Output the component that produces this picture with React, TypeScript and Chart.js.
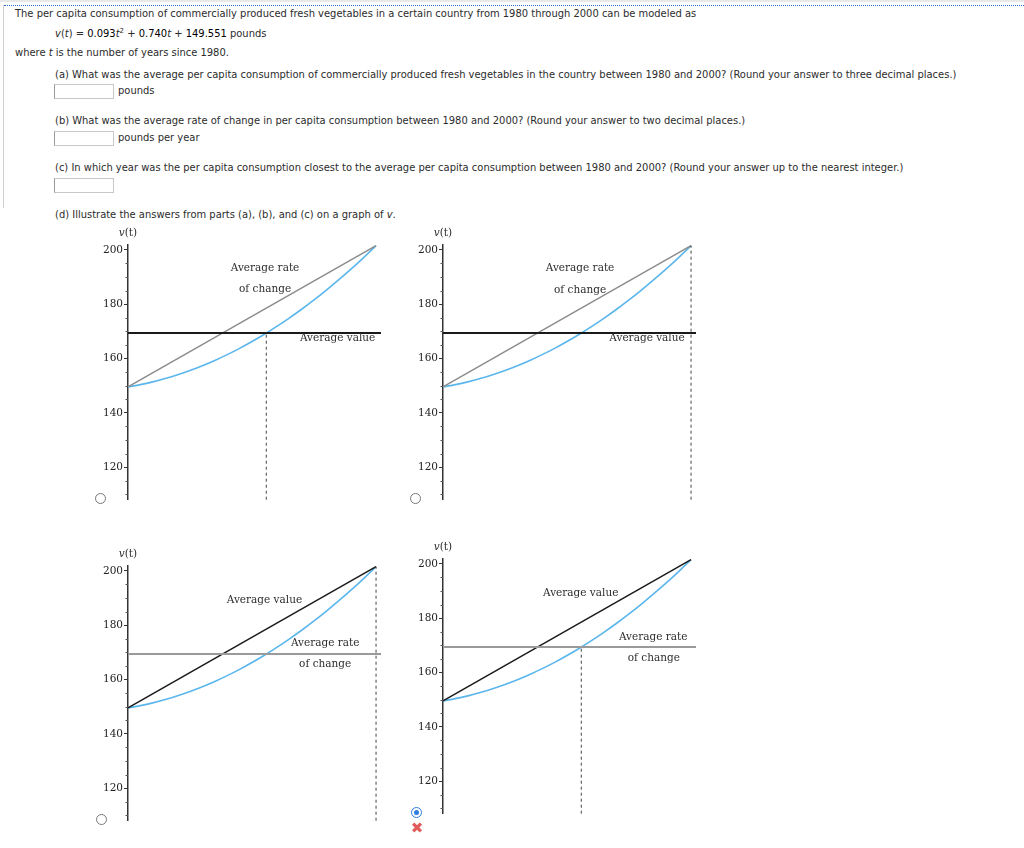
import React, { useEffect, useRef } from "react";
import { Chart, registerables } from "chart.js";

Chart.register(...registerables);

// ---- data ----
const T_VALUES = [0, 1, 2, 3, 4, 5, 6, 7, 8, 9, 10, 11, 12, 13, 14, 15, 16, 17, 18, 19, 20];
const V_VALUES = [
  149.55, 150.38, 151.4, 152.61, 154.0, 155.58, 157.34, 159.29, 161.42, 163.74, 166.25,
  168.94, 171.82, 174.89, 178.14, 181.58, 185.2, 189.01, 193.0, 197.18, 201.55,
];
const SECANT_T = [0, 20];
const SECANT_V = [149.55, 201.55];
const AVG_VALUE = 169.35;
const AVG_LINE_T = [0, 20.4];
const CLOSEST_T = 11.15;
const END_T = 20;
const Y_TICKS = [120, 140, 160, 180, 200];
const Y_MINOR = [110, 115, 125, 130, 135, 145, 150, 155, 165, 170, 175, 185, 190, 195];
const X_MIN = 0;
const X_MAX = 20.4;
const Y_MIN = 108;
const Y_MAX = 201.8;

const BLUE = "#5ab6ec";
const GRAY = "#8c8c8c";
const DARK = "#1a1a1a";
const TEXT = "#2e2e2e";

type Label = { text: string; t: number; v: number };
type Panel = {
  left: number;
  top: number;
  secantColor: string;
  avgColor: string;
  dashT: number;
  dashTop: number;
  labels: Label[];
};

const PANELS: Panel[] = [
  {
    left: 128, top: 245, secantColor: GRAY, avgColor: DARK, dashT: CLOSEST_T, dashTop: AVG_VALUE,
    labels: [
      { text: "Average rate", t: 11.05, v: 193.1 },
      { text: "of change", t: 11.05, v: 185.4 },
      { text: "Average value", t: 16.9, v: 167.3 },
    ],
  },
  {
    left: 443, top: 245, secantColor: GRAY, avgColor: DARK, dashT: END_T, dashTop: 201.55,
    labels: [
      { text: "Average rate", t: 11.05, v: 193.1 },
      { text: "of change", t: 11.05, v: 185.3 },
      { text: "Average value", t: 16.45, v: 167.3 },
    ],
  },
  {
    left: 128, top: 566, secantColor: DARK, avgColor: "#9a9a9a", dashT: END_T, dashTop: 201.55,
    labels: [
      { text: "Average value", t: 11.0, v: 189.35 },
      { text: "Average rate", t: 15.9, v: 173.2 },
      { text: "of change", t: 15.9, v: 165.45 },
    ],
  },
  {
    left: 443, top: 559, secantColor: DARK, avgColor: "#9a9a9a", dashT: CLOSEST_T, dashTop: AVG_VALUE,
    labels: [
      { text: "Average value", t: 11.1, v: 189.35 },
      { text: "Average rate", t: 16.95, v: 173.0 },
      { text: "of change", t: 17.0, v: 165.3 },
    ],
  },
];

const AXIS_W = 45;
const PAD_TOP = 20;
const PAD_RIGHT = 6;
const PAD_BOTTOM = 4;
const AREA_W = 253;
const AREA_H = 258;

function ChartPanel({ panel }: { panel: Panel }) {
  const ref = useRef<HTMLCanvasElement | null>(null);
  useEffect(() => {
    if (!ref.current) return;
    const overlay = {
      id: "overlay",
      afterDraw(chart: any) {
        const ctx = chart.ctx;
        const xs = chart.scales.x;
        const ys = chart.scales.y;
        const ax = chart.chartArea.left;
        ctx.save();
        // minor ticks
        ctx.strokeStyle = "#555";
        ctx.lineWidth = 1;
        Y_MINOR.forEach((v) => {
          const y = Math.round(ys.getPixelForValue(v)) + 0.5;
          ctx.beginPath();
          ctx.moveTo(ax - 2.5, y);
          ctx.lineTo(ax, y);
          ctx.stroke();
        });
        // v(t) title
        ctx.fillStyle = TEXT;
        ctx.textBaseline = "middle";
        ctx.textAlign = "left";
        const fi = "italic 10.5px 'DejaVu Serif', serif";
        const fn = "10.5px 'DejaVu Serif', serif";
        ctx.font = fi;
        const w1 = ctx.measureText("v").width;
        ctx.font = fn;
        const w2 = ctx.measureText("(t)").width;
        const x0 = ax - (w1 + w2) / 2;
        const ty = chart.chartArea.top - 12;
        ctx.font = fi;
        ctx.fillText("v", x0, ty);
        ctx.font = fn;
        ctx.fillText("(t)", x0 + w1, ty);
        // labels
        ctx.font = "10.5px 'DejaVu Serif', serif";
        ctx.textAlign = "center";
        panel.labels.forEach((l) => {
          ctx.fillText(l.text, xs.getPixelForValue(l.t), ys.getPixelForValue(l.v));
        });
        ctx.restore();
      },
    };
    const chart = new Chart(ref.current, {
      type: "line",
      data: {
        datasets: [
          {
            data: [
              { x: panel.dashT, y: Y_MIN },
              { x: panel.dashT, y: panel.dashTop },
            ],
            borderColor: "#444",
            borderWidth: 1,
            borderDash: [3, 3],
            pointRadius: 0,
          },
          {
            data: AVG_LINE_T.map((t) => ({ x: t, y: AVG_VALUE })),
            borderColor: panel.avgColor,
            borderWidth: 2,
            pointRadius: 0,
          },
          {
            data: SECANT_T.map((t, i) => ({ x: t, y: SECANT_V[i] })),
            borderColor: panel.secantColor,
            borderWidth: 1.5,
            pointRadius: 0,
          },
          {
            data: T_VALUES.map((t, i) => ({ x: t, y: V_VALUES[i] })),
            borderColor: BLUE,
            borderWidth: 1.6,
            pointRadius: 0,
            cubicInterpolationMode: "monotone",
          },
        ],
      },
      options: {
        responsive: false,
        animation: false,
        events: [],
        layout: { padding: { top: PAD_TOP, right: PAD_RIGHT, bottom: PAD_BOTTOM, left: 0 } },
        plugins: { legend: { display: false }, tooltip: { enabled: false } },
        datasets: { line: { clip: false } as any },
        scales: {
          x: { type: "linear", min: X_MIN, max: X_MAX, display: false },
          y: {
            type: "linear",
            position: "left",
            min: Y_MIN,
            max: Y_MAX,
            afterBuildTicks: (s: any) => {
              s.ticks = Y_TICKS.map((v) => ({ value: v }));
            },
            afterFit: (s: any) => {
              s.width = AXIS_W;
            },
            grid: { drawOnChartArea: false, drawTicks: true, tickLength: 4, tickColor: "#333", tickWidth: 1 },
            border: { display: true, color: "#333", width: 1.5 },
            ticks: {
              color: "#222",
              padding: 1,
              font: { family: "'DejaVu Serif', serif", size: 10.5 },
              callback: (v: any) => String(v),
            },
          },
        },
      } as any,
      plugins: [overlay],
    });
    return () => chart.destroy();
  }, [panel]);
  return (
    <canvas
      ref={ref}
      width={AXIS_W + AREA_W + PAD_RIGHT}
      height={PAD_TOP + AREA_H + PAD_BOTTOM}
      style={{
        position: "absolute",
        left: panel.left - AXIS_W,
        top: panel.top - PAD_TOP,
        width: AXIS_W + AREA_W + PAD_RIGHT,
        height: PAD_TOP + AREA_H + PAD_BOTTOM,
      }}
    />
  );
}

const txt = (x: number, cy: number, content: React.ReactNode, extra: React.CSSProperties = {}) => (
  <div
    style={{
      position: "absolute",
      left: x,
      top: cy - 7,
      height: 14,
      lineHeight: "14px",
      whiteSpace: "nowrap",
      ...extra,
    }}
  >
    {content}
  </div>
);

const box = (x: number, y: number) => (
  <div
    style={{
      position: "absolute",
      left: x,
      top: y,
      width: 58,
      height: 13,
      border: "1px solid #c8c8c8",
      borderLeftColor: "#9a9a9a",
      background: "#fff",
    }}
  />
);

const radio = (cx: number, cy: number) => (
  <div
    style={{
      position: "absolute",
      left: cx - 5,
      top: cy - 5,
      width: 9,
      height: 9,
      borderRadius: "50%",
      border: "1px solid #777",
      background: "#fff",
    }}
  />
);

export default function App() {
  const n = { color: "#000" };
  return (
    <div
      style={{
        position: "absolute",
        left: 0,
        top: 0,
        width: 1024,
        height: 848,
        background: "#fff",
        fontFamily: "'DejaVu Sans', Verdana, sans-serif",
        fontSize: 9.95,
        color: "#2b2b2b",
        overflow: "hidden",
      }}
    >
      <div style={{ position: "absolute", left: 0, top: 0, width: 1024, height: 2, background: "#e8e8e8" }} />
      <div style={{ position: "absolute", left: 4, top: 5, width: 1020, borderTop: "1px dotted #2f6fcf" }} />
      <div style={{ position: "absolute", left: 3, top: 5, width: 1, height: 203, background: "#d0d0d0" }} />
      {txt(15, 14, "The per capita consumption of commercially produced fresh vegetables in a certain country from 1980 through 2000 can be modeled as")}
      {txt(
        55,
        34,
        <span>
          <i>v</i>(<i>t</i>) = <span style={n}>0.093</span>
          <i>t</i>
          <sup style={{ fontSize: 7, lineHeight: 0 }}>2</sup> + <span style={n}>0.740</span>
          <i>t</i> + <span style={n}>149.551</span> pounds
        </span>
      )}
      {txt(15, 53, <span>where <i>t</i> is the number of years since 1980.</span>)}
      {txt(55, 75, "(a) What was the average per capita consumption of commercially produced fresh vegetables in the country between 1980 and 2000? (Round your answer to three decimal places.)")}
      {box(54, 84)}
      {txt(118, 91, "pounds")}
      {txt(55, 121, "(b) What was the average rate of change in per capita consumption between 1980 and 2000? (Round your answer to two decimal places.)")}
      {box(54, 131)}
      {txt(118, 138, "pounds per year")}
      {txt(55, 168, "(c) In which year was the per capita consumption closest to the average per capita consumption between 1980 and 2000? (Round your answer up to the nearest integer.)")}
      {box(54, 178)}
      {txt(55, 215, <span>(d) Illustrate the answers from parts (a), (b), and (c) on a graph of <i>v</i>.</span>)}

      {PANELS.map((p, i) => (
        <ChartPanel key={i} panel={p} />
      ))}

      {radio(100, 498)}
      {radio(415, 498)}
      {radio(101, 819)}
      <div
        style={{
          position: "absolute",
          left: 411,
          top: 807,
          width: 9,
          height: 9,
          borderRadius: "50%",
          border: "1px solid #2f7de1",
          background: "#fff",
        }}
      >
        <div
          style={{
            position: "absolute",
            left: 2,
            top: 2,
            width: 5,
            height: 5,
            borderRadius: "50%",
            background: "#2f7de1",
          }}
        />
      </div>
      <div
        style={{
          position: "absolute",
          left: 408,
          top: 819,
          width: 18,
          height: 18,
          lineHeight: "18px",
          textAlign: "center",
          color: "#e25c5c",
          fontSize: 15,
          fontFamily: "'DejaVu Sans', sans-serif",
        }}
      >
        ✖
      </div>
    </div>
  );
}
